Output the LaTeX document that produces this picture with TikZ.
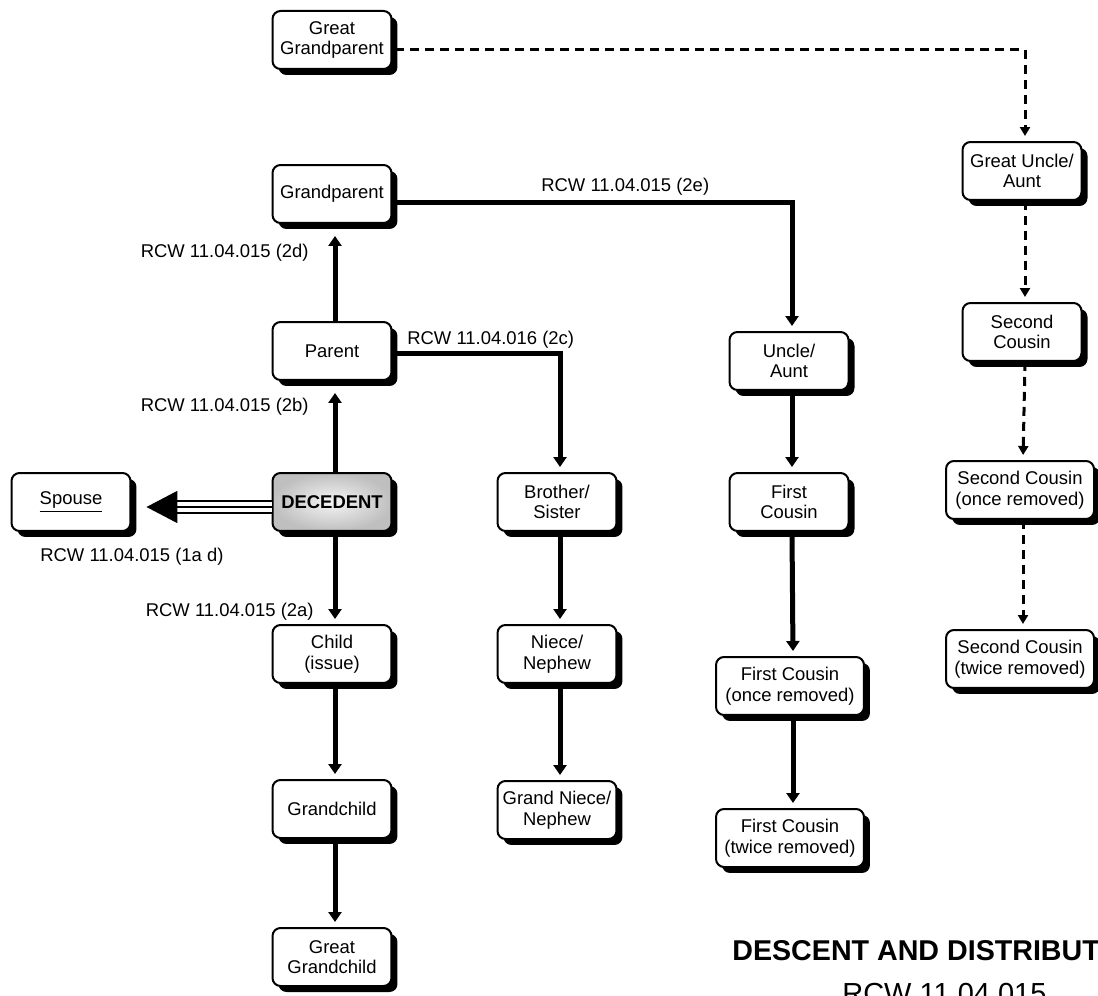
\documentclass[tikz,border=0pt]{standalone}
\usepackage{fontspec}
\setmainfont{Liberation Sans}
\usetikzlibrary{arrows.meta,shadows}

\tikzset{
    box/.style={draw, line width=0.04cm, rounded corners=0.16cm, fill=white,
        minimum width=2.38cm, minimum height=1.16cm, align=center, inner sep=0.1cm,
        font=\fontsize{10.5}{11.7}\selectfont,
        drop shadow={shadow xshift=0.12cm, shadow yshift=-0.12cm, fill=black, opacity=1}},
    widebox/.style={box, minimum width=2.96cm},
    arr/.style={line width=0.1cm, -{Triangle[length=0.2cm,width=0.26cm]},
        transform canvas={xshift=0.06cm}},
    darr/.style={line width=0.06cm, dash pattern=on 0.18cm off 0.12cm,
        -{Triangle[length=0.18cm,width=0.2cm]}, transform canvas={xshift=0.06cm}},
    lbl/.style={font=\fontsize{10.5}{12}\selectfont, inner sep=0pt},
}

\begin{document}
\begin{tikzpicture}[x=0.02cm, y=-0.02cm]
    \useasboundingbox (0,0) rectangle (1098,996);
    %% decedent and direct line
    \node[box] (gg) at (332,40) {Great\\Grandparent};
    \node[box] (gp) at (332,194) {Grandparent};
    \node[box] (par) at (332,351) {Parent};
    \node[box, font=\fontsize{10.5}{11.7}\selectfont\bfseries,
        inner color=gray!8, outer color=gray!50] (dec) at (332,502) {DECEDENT};
    \node[box] (sp) at (71,502) {\underline{Spouse}};
    \node[box] (ch) at (332,654) {Child\\(issue)};
    \node[box] (gch) at (332,809) {Grandchild};
    \node[box] (ggch) at (332,957) {Great\\Grandchild};
    %% siblings
    \node[box] (bro) at (557,502) {Brother/\\Sister};
    \node[box] (nie) at (557,654) {Niece/\\Nephew};
    \node[box] (gnie) at (557,810) {Grand Niece/\\Nephew};
    %% uncles and first cousins
    \node[box] (unc) at (789,361) {Uncle/\\Aunt};
    \node[box] (fc) at (789,502) {First\\Cousin};
    \node[widebox] (fc1) at (790,686) {First Cousin\\(once removed)};
    \node[widebox] (fc2) at (790,838) {First Cousin\\(twice removed)};
    %% great uncles and second cousins
    \node[box] (gu) at (1022,171) {Great Uncle/\\Aunt};
    \node[box] (sc) at (1022,332) {Second\\Cousin};
    \node[widebox] (sc1) at (1020,490) {Second Cousin\\(once removed)};
    \node[widebox] (sc2) at (1020,659) {Second Cousin\\(twice removed)};

    %% connectors
    \draw[arr, shorten >=0.24cm] (dec.north) -- (par.south);
    \draw[arr, shorten >=0.24cm] (par.north) -- (gp.south);
    \draw[arr, shorten >=0.1cm] (dec.south) -- (ch.north);
    \draw[arr, shorten >=0.1cm] (ch.south) -- (gch.north);
    \draw[arr, shorten >=0.1cm] (gch.south) -- (ggch.north);
    \draw[arr, shorten >=0.1cm] ([yshift=-0.06cm]par.east) -| (bro.north);
    \draw[arr, shorten >=0.1cm] (bro.south) -- (nie.north);
    \draw[arr, shorten >=0.1cm] (nie.south) -- (gnie.north);
    \draw[arr, shorten >=0.1cm] ([yshift=-0.18cm]gp.east) -| (unc.north);
    \draw[arr, shorten >=0.1cm] (unc.south) -- (fc.north);
    \draw[arr, shorten >=0.1cm] (fc.south) -- (fc1.north);
    \draw[arr, shorten >=0.1cm] (fc1.south) -- (fc2.north);
    \draw[darr, shorten >=0.1cm] ([yshift=-0.2cm]gg.east) -| (gu.north);
    \draw[darr, shorten >=0.1cm] (gu.south) -- (sc.north);
    \draw[darr, shorten >=0.1cm] (sc.south) -- (sc1.north);
    \draw[darr, shorten >=0.1cm] (sc1.south) -- (sc2.north);
    %% spouse
    \draw[line width=0.04cm, double, double distance=0.22cm, shorten >=0.92cm]
        ([yshift=-0.1cm]dec.west) -- ([yshift=-0.1cm]sp.east);
    \draw[line width=0.04cm, -{Triangle[length=0.62cm,width=0.64cm]}, shorten >=0.3cm]
        ([yshift=-0.1cm]dec.west) -- ([yshift=-0.1cm]sp.east);

    %% statute labels
    \node[lbl, anchor=east] (l2d) at (309,253) {RCW 11.04.015 (2d)};
    \node[lbl, anchor=east] (l2b) at (309,407) {RCW 11.04.015 (2b)};
    \node[lbl, anchor=east] (l2a) at (314,612) {RCW 11.04.015 (2a)};
    \node[lbl, anchor=west] (l1a) at (40,557) {RCW 11.04.015 (1a d)};
    \node[lbl, anchor=west] (l2c) at (407,340) {RCW 11.04.016 (2c)};
    \node[lbl, anchor=west] (l2e) at (541,187) {RCW 11.04.015 (2e)};

    %% title
    \node[anchor=base west, inner sep=0pt, font=\bfseries\fontsize{16.3}{19}\selectfont]
        (ttl) at (732,960) {DESCENT AND DISTRIBUTION};
    \node[anchor=base west, inner sep=0pt, font=\fontsize{16.5}{19}\selectfont]
        (rcw) at (842,1003) {RCW 11.04.015};
\end{tikzpicture}
\end{document}
